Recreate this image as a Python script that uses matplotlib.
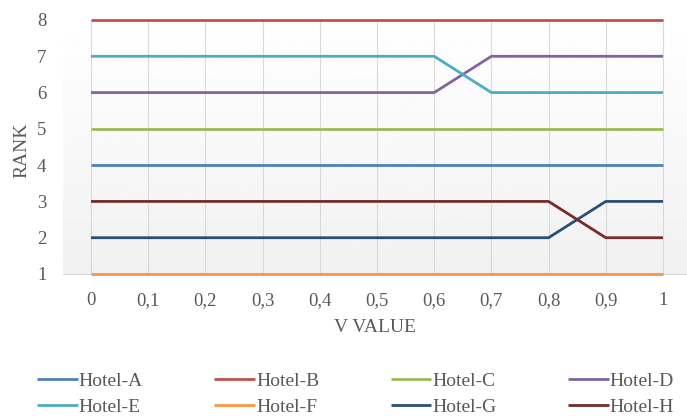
import matplotlib.pyplot as plt
import numpy as np

v_values = [0, 0.1, 0.2, 0.3, 0.4, 0.5, 0.6, 0.7, 0.8, 0.9, 1]
v_labels = ["0", "0,1", "0,2", "0,3", "0,4", "0,5", "0,6", "0,7", "0,8", "0,9", "1"]

hotel_a = [4, 4, 4, 4, 4, 4, 4, 4, 4, 4, 4]
hotel_b = [8, 8, 8, 8, 8, 8, 8, 8, 8, 8, 8]
hotel_c = [5, 5, 5, 5, 5, 5, 5, 5, 5, 5, 5]
hotel_d = [6, 6, 6, 6, 6, 6, 6, 7, 7, 7, 7]
hotel_e = [7, 7, 7, 7, 7, 7, 7, 6, 6, 6, 6]
hotel_f = [1, 1, 1, 1, 1, 1, 1, 1, 1, 1, 1]
hotel_g = [2, 2, 2, 2, 2, 2, 2, 2, 2, 3, 3]
hotel_h = [3, 3, 3, 3, 3, 3, 3, 3, 3, 2, 2]

names = ["Hotel-A", "Hotel-B", "Hotel-C", "Hotel-D",
         "Hotel-E", "Hotel-F", "Hotel-G", "Hotel-H"]
series = [hotel_a, hotel_b, hotel_c, hotel_d, hotel_e, hotel_f, hotel_g, hotel_h]
colors = ["#4F81BD", "#C0504D", "#9BBB59", "#8064A2",
          "#4BACC6", "#F79646", "#2C4D75", "#772C2A"]

plt.rcParams['font.family'] = ['Liberation Serif', 'DejaVu Serif']
text_color = "#595959"

fig = plt.figure(figsize=(6.87, 4.16), dpi=100)
ax = fig.add_axes([63 / 687, 142 / 416, 624 / 687, 254 / 416])

# soft vertical gradient behind the plot area
grad = np.linspace(1.0, 0.945, 256).reshape(-1, 1)
ax.imshow(grad, cmap="gray", vmin=0, vmax=1, aspect="auto",
          extent=[0, 1, 0, 1.0], transform=ax.transAxes, zorder=0)

lines = []
for vals, name, c in zip(series, names, colors):
    ln, = ax.plot(v_values, vals, color=c, lw=2.0, label=name, zorder=3,
                  clip_on=False, solid_capstyle="butt")
    lines.append(ln)

ax.set_xlim(-0.049, 1.042)
ax.set_ylim(1, 8)
ax.set_xticks(v_values)
ax.set_xticklabels(v_labels)
ax.set_yticks(range(1, 9))
ax.grid(axis="x", color="#d9d9d9", lw=0.8, zorder=1)
ax.set_axisbelow(True)

for s in ["top", "right", "left"]:
    ax.spines[s].set_visible(False)
ax.spines["bottom"].set_color("#d9d9d9")
ax.spines["bottom"].set_linewidth(0.8)
ax.tick_params(axis="both", length=0, labelsize=13.5, colors=text_color)
ax.tick_params(axis="x", pad=13)
ax.tick_params(axis="y", pad=12)

ax.set_xlabel("V VALUE", fontsize=14, color=text_color, labelpad=7)
fig.text(22 / 687, 1 - 150 / 416, "RANK", rotation=90, fontsize=14,
         color=text_color, ha="center", va="center")

# legend filled row by row: A B C D / E F G H
order = [0, 4, 1, 5, 2, 6, 3, 7]
fig.legend([lines[i] for i in order], [names[i] for i in order],
           loc="lower left", bbox_to_anchor=(37 / 687, 0.0, 637 / 687, 50 / 416),
           ncol=4, mode="expand", frameon=False, fontsize=14, borderpad=0,
           borderaxespad=0, handlelength=2.1, handletextpad=0.05,
           labelspacing=0.42, labelcolor=text_color)

fig.savefig("out.png", dpi=100)
